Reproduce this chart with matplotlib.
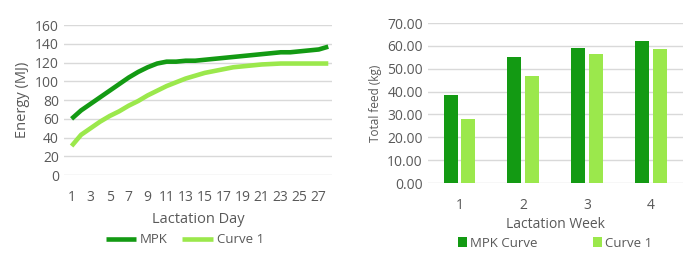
import numpy as np
import matplotlib.pyplot as plt
from matplotlib.ticker import FormatStrFormatter

plt.rcParams['font.family'] = ['Open Sans', 'DejaVu Sans']

days = np.arange(1, 29)
mpk_energy = [60, 69, 76, 83, 90, 97, 104, 110, 115, 119, 121, 121, 122, 122,
              123, 124, 125, 126, 127, 128, 129, 130, 131, 131, 132, 133, 134, 137]
curve1_energy = [31, 43, 50, 57, 63, 68, 74, 79, 85, 90, 95, 99, 103, 106,
                 109, 111, 113, 115, 116, 117, 118, 118.5, 119, 119, 119, 119, 119, 119]
day_ticks = list(range(1, 28, 2))

weeks = ['1', '2', '3', '4']
mpk_feed = [38.5, 55.0, 59.0, 62.3]
curve1_feed = [28.0, 47.0, 56.3, 58.5]

dark = '#139a13'
light = '#9be84c'
grid = '#d9d9d9'
txt = '#595959'

fig = plt.figure(figsize=(7, 2.56), dpi=100)

# left: energy per day
ax1 = fig.add_axes([0.0914, 0.316, 0.383, 0.586])
ax1.plot(days, mpk_energy, color=dark, lw=3.3, label='MPK', solid_capstyle='butt')
ax1.plot(days, curve1_energy, color=light, lw=3.3, label='Curve 1', solid_capstyle='butt')
ax1.set_xlim(0.2, 28.4)
ax1.set_ylim(0, 160)
ax1.set_yticks(range(0, 161, 20))
ax1.set_xticks(day_ticks)
ax1.yaxis.grid(True, color=grid, lw=1)
ax1.set_axisbelow(True)
for s in ax1.spines.values():
    s.set_visible(False)
ax1.tick_params(length=0, colors=txt, labelsize=10)
ax1.tick_params(axis='x', pad=11)
ax1.set_ylabel('Energy (MJ)', color=txt, fontsize=10.5, labelpad=4)
ax1.set_xlabel('Lactation Day', color=txt, fontsize=10.5, labelpad=5)
leg1 = ax1.legend(loc='upper center', bbox_to_anchor=(0.45, -0.31), ncol=2,
                  frameon=False, fontsize=9.5, handlelength=2.3, columnspacing=1.1,
                  handletextpad=0.3)
for t in leg1.get_texts():
    t.set_color(txt)

# right: total feed per week
ax2 = fig.add_axes([0.611, 0.285, 0.364, 0.625])
x = np.arange(len(weeks))
ax2.bar(x - 0.14, mpk_feed, width=0.22, color=dark, label='MPK Curve')
ax2.bar(x + 0.14, curve1_feed, width=0.22, color=light, label='Curve 1')
ax2.set_xlim(-0.5, 3.5)
ax2.set_ylim(0, 70)
ax2.set_yticks(range(0, 71, 10))
ax2.yaxis.set_major_formatter(FormatStrFormatter('%.2f'))
ax2.set_xticks(x)
ax2.set_xticklabels(weeks)
ax2.yaxis.grid(True, color=grid, lw=1)
ax2.set_axisbelow(True)
for s in ax2.spines.values():
    s.set_visible(False)
ax2.tick_params(length=0, colors=txt, labelsize=10)
ax2.tick_params(axis='x', pad=11)
ax2.set_ylabel('Total feed (kg)', color=txt, fontsize=8.5, labelpad=4)
ax2.set_xlabel('Lactation Week', color=txt, fontsize=10, labelpad=3)
leg2 = ax2.legend(loc='upper center', bbox_to_anchor=(0.5, -0.26), ncol=2,
                  frameon=False, fontsize=9.5, handlelength=0.7, handleheight=0.7,
                  columnspacing=4.2, handletextpad=0.2)
for t in leg2.get_texts():
    t.set_color(txt)

fig.savefig('out.png', dpi=100)
